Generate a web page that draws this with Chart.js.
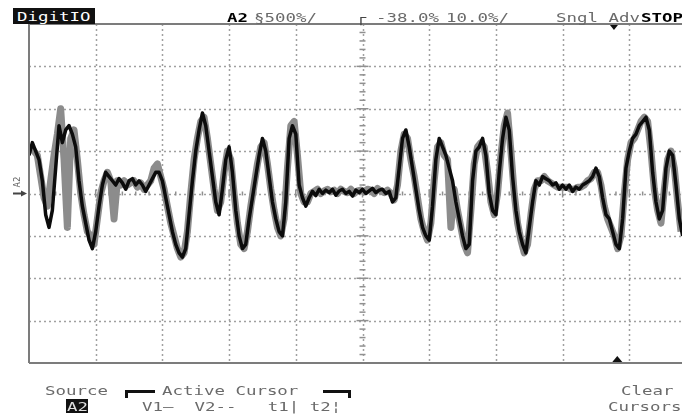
<!DOCTYPE html>
<html>
<head>
<meta charset="utf-8">
<script src="https://cdn.jsdelivr.net/npm/chart.js@4.4.0/dist/chart.umd.min.js"></script>
<style>
body { margin: 0; width: 682px; height: 414px; overflow: hidden; background: #fff; position: relative; }
#wrap { position: absolute; left: 0; top: 0; width: 700px; height: 414px; }
.t { position: absolute; font-family: "DejaVu Sans Mono", monospace; font-size: 13px; line-height: 13px; color: #6a6a6a; white-space: pre; transform-origin: 0 0; transform: scaleX(1.34); }
.b { font-weight: bold; color: #000; }
.box { position: absolute; background: #111; }
</style>
</head>
<body>
<div id="wrap"><canvas id="scope" width="700" height="414"></canvas></div>

<div class="box" style="left:13px; top:8px; width:82px; height:16px;"></div>
<div class="t" style="left:17px; top:10px; color:#fff;">DigitIO</div>
<div class="t b" style="left:227px; top:11px;">A2</div>
<div class="t" style="left:254px; top:11px;">§500%/</div>
<div class="t" style="left:356px; top:11px; color:#444;">┌</div>
<div class="t" style="left:376px; top:11px;">-38.0%</div>
<div class="t" style="left:446px; top:11px;">10.0%/</div>
<div class="t" style="left:556px; top:11px;">Sngl Adv</div>
<div class="t b" style="left:641px; top:11px;">STOP</div>

<div class="t" style="left:45px; top:384px;">Source</div>
<div class="box" style="left:66px; top:399px; width:22px; height:14px;"></div>
<div class="t" style="left:67px; top:400px; color:#ddd;">A2</div>
<div class="box" style="left:125px; top:390px; width:30px; height:3px;"></div>
<div class="box" style="left:125px; top:390px; width:3px; height:8px;"></div>
<div class="t" style="left:162px; top:384px;">Active Cursor</div>
<div class="box" style="left:323px; top:390px; width:28px; height:3px;"></div>
<div class="box" style="left:348px; top:390px; width:3px; height:8px;"></div>
<div class="t" style="left:142px; top:400px;">V1—  V2--   t1| t2¦</div>
<div class="t" style="left:621px; top:384px;">Clear</div>
<div class="t" style="left:608px; top:400px;">Cursors</div>

<script>
// horizontal divisions 0..10, vertical divisions -4..4
var sampleStep = 0.05;
var blackStart = 0;
var grayStart = 0.025;
var xDivs = [1, 2, 3, 4, 5, 6, 7, 8, 9];
var yDivs = [-3, -2, -1, 0, 1, 2, 3];

// main (black) sweep, in divisions
var blackValues = [
  0.9, 1.2, 1.0, 0.8, 0.3, -0.5, -0.8, -0.4, 0.6, 1.6,
  1.2, 1.5, 1.6, 1.4, 1.1, 0.3, -0.3, -0.7, -1.1, -1.3,
  -0.9, -0.3, 0.2, 0.5, 0.4, 0.3, 0.2, 0.35, 0.25, 0.1,
  0.3, 0.35, 0.2, 0.3, 0.2, 0.05, 0.2, 0.35, 0.5, 0.5,
  0.3, -0.1, -0.5, -0.9, -1.2, -1.4, -1.5, -1.3, -0.5, 0.3,
  1.0, 1.5, 1.9, 1.6, 1.0, 0.4, -0.2, -0.5, 0.1, 0.8,
  1.1, 0.5, -0.4, -1.0, -1.3, -1.2, -0.6, -0.1, 0.4, 0.9,
  1.3, 1.0, 0.4, -0.2, -0.6, -0.9, -1.0, -0.2, 1.3, 1.6,
  1.4, 0.2, -0.1, -0.3, -0.1, 0.05, -0.05, 0.1, 0.0, 0.08,
  0.02, 0.1, -0.04, 0.06, 0.1, 0.0, 0.05, -0.06, 0.08, 0.02,
  0.1, 0.0, 0.06, 0.12, 0.02, 0.08, 0.1, 0.0, 0.05, -0.2,
  -0.1, 0.6, 1.3, 1.5, 1.1, 0.6, 0.1, -0.4, -0.8, -1.0,
  -1.1, -0.3, 0.8, 1.3, 1.1, 0.9, 0.6, 0.3, -0.2, -0.6,
  -1.0, -1.3, -1.2, 0.3, 1.0, 1.1, 1.3, 0.9, 0.0, -0.4,
  -0.5, 0.5, 1.3, 1.8, 1.5, 0.4, -0.4, -0.9, -1.2, -1.4,
  -0.8, -0.2, 0.3, 0.2, 0.4, 0.35, 0.3, 0.2, 0.25, 0.1,
  0.2, 0.1, 0.2, 0.05, 0.15, 0.1, 0.2, 0.25, 0.3, 0.4,
  0.6, 0.4, -0.1, -0.5, -0.6, -0.9, -1.2, -1.3, -0.6, 0.6,
  1.0, 1.3, 1.4, 1.6, 1.7, 1.8, 1.5, 0.5, -0.2, -0.6,
  -0.4, 0.6, 1.0, 0.9, 0.2, -0.6, -1.0
];

// second (gray) sweep
var grayValues = [
  1.1, 1.0, 0.9, 0.4, -0.1, -0.3, 0.3, 0.9, 1.4, 2.0,
  0.8, -0.8, 1.3, 1.5, 0.8, 0.0, -0.5, -0.9, -1.0, -1.2,
  -0.6, 0.0, 0.3, 0.5, 0.3, -0.6, 0.3, 0.2, 0.3, 0.2,
  0.25, 0.3, 0.15, 0.25, 0.1, 0.2, 0.3, 0.6, 0.7, 0.4,
  0.1, -0.3, -0.7, -1.0, -1.3, -1.5, -1.4, -0.9, 0.0, 0.8,
  1.3, 1.7, 1.8, 1.3, 0.7, 0.1, -0.4, -0.2, 0.5, 1.0,
  0.8, 0.0, -0.7, -1.2, -1.3, -0.9, -0.3, 0.2, 0.7, 1.1,
  1.2, 0.7, 0.1, -0.4, -0.8, -1.0, -0.6, 0.6, 1.6, 1.7,
  0.9, 0.0, -0.2, -0.2, 0.0, 0.05, 0.1, 0.0, 0.06, 0.1,
  0.04, 0.08, 0.0, 0.1, 0.05, 0.02, 0.1, 0.0, 0.06, 0.08,
  0.04, 0.1, 0.08, 0.0, 0.12, 0.06, 0.02, 0.08, 0.0, -0.15,
  0.2, 1.0, 1.4, 1.3, 0.8, 0.4, -0.1, -0.6, -0.9, -1.1,
  -0.7, 0.3, 1.1, 1.2, 0.9, 0.8, -0.8, 0.1, -0.4, -0.8,
  -1.2, -1.4, -0.4, 0.7, 1.1, 1.2, 1.1, 0.5, -0.2, -0.5,
  0.0, 0.9, 1.6, 1.9, 1.0, 0.0, -0.7, -1.1, -1.4, -1.2,
  -0.5, 0.1, 0.3, 0.3, 0.4, 0.3, 0.25, 0.2, 0.15, 0.15,
  0.15, 0.15, 0.1, 0.1, 0.15, 0.15, 0.2, 0.3, 0.35, 0.5,
  0.5, 0.2, -0.3, -0.6, -0.8, -1.0, -1.3, -1.0, 0.0, 0.8,
  1.2, 1.3, 1.5, 1.7, 1.8, 1.7, 1.0, 0.1, -0.4, -0.7,
  0.1, 0.8, 1.0, 0.6, -0.2, -0.9
];

function toPoints(values, start) {
  var pts = [];
  for (var i = 0; i < values.length; i++) {
    pts.push({ x: start + i * sampleStep, y: values[i] });
  }
  return pts;
}

var scopeDecor = {
  id: 'scopeDecor',
  beforeDatasetsDraw: function(chart) {
    var ctx = chart.ctx;
    var xs = chart.scales.x;
    var ys = chart.scales.y;
    var a = chart.chartArea;
    ctx.save();
    ctx.strokeStyle = '#a0a0a0';
    ctx.lineWidth = 1.5;
    ctx.setLineDash([2, 3]);
    for (var i = 0; i < xDivs.length; i++) {
      var px = Math.round(xs.getPixelForValue(xDivs[i])) + 0.5;
      ctx.beginPath(); ctx.moveTo(px, a.top); ctx.lineTo(px, a.bottom); ctx.stroke();
    }
    for (var j = 0; j < yDivs.length; j++) {
      var py = Math.round(ys.getPixelForValue(yDivs[j])) + 0.5;
      ctx.beginPath(); ctx.moveTo(a.left, py); ctx.lineTo(a.right, py); ctx.stroke();
    }
    ctx.setLineDash([]);
    // minor ticks on the centre axes
    ctx.strokeStyle = '#909090';
    ctx.lineWidth = 1.5;
    var cx = xs.getPixelForValue(5);
    var cy = ys.getPixelForValue(0);
    for (var k = -20; k <= 20; k++) {
      var ty = ys.getPixelForValue(k / 5);
      var w = (k % 5 == 0) ? 6 : 3;
      ctx.beginPath(); ctx.moveTo(cx - w, ty); ctx.lineTo(cx + w, ty); ctx.stroke();
    }
    for (var m = 0; m <= 50; m++) {
      var tx = xs.getPixelForValue(m / 5);
      var h = (m % 5 == 0) ? 4 : 2;
      ctx.beginPath(); ctx.moveTo(tx, cy - h); ctx.lineTo(tx, cy + h); ctx.stroke();
    }
    ctx.restore();
  },
  afterDraw: function(chart) {
    var ctx = chart.ctx;
    var xs = chart.scales.x;
    var a = chart.chartArea;
    ctx.save();
    ctx.strokeStyle = '#7c7c7c';
    ctx.lineWidth = 2;
    ctx.beginPath();
    ctx.moveTo(a.left, 18); ctx.lineTo(a.left, a.bottom);
    ctx.moveTo(a.left, a.top); ctx.lineTo(chart.width, a.top);
    ctx.moveTo(a.left, a.bottom); ctx.lineTo(chart.width, a.bottom);
    ctx.stroke();
    // trigger / cursor markers
    ctx.fillStyle = '#111';
    var mx = xs.getPixelForValue(8.77);
    ctx.beginPath(); ctx.moveTo(mx - 4, a.top + 1); ctx.lineTo(mx + 4, a.top + 1); ctx.lineTo(mx, a.top + 6); ctx.fill();
    var bx = xs.getPixelForValue(8.82);
    ctx.beginPath(); ctx.moveTo(bx - 5, a.bottom - 1); ctx.lineTo(bx + 5, a.bottom - 1); ctx.lineTo(bx, a.bottom - 7); ctx.fill();
    // channel label on left edge
    var cy = chart.scales.y.getPixelForValue(0);
    ctx.fillStyle = '#666';
    ctx.font = '9px "DejaVu Sans Mono"';
    ctx.translate(20, cy - 6);
    ctx.rotate(-Math.PI / 2);
    ctx.fillText('A2', 0, 0);
    ctx.restore();
    ctx.save();
    ctx.fillStyle = '#444';
    ctx.beginPath(); ctx.moveTo(a.left - 2, cy); ctx.lineTo(a.left - 8, cy - 3); ctx.lineTo(a.left - 8, cy + 3); ctx.fill();
    ctx.fillRect(a.left - 16, cy - 1, 9, 2);
    ctx.restore();
  }
};

new Chart(document.getElementById('scope').getContext('2d'), {
  type: 'scatter',
  data: {
    datasets: [
      {
        label: 'A2',
        data: toPoints(blackValues, blackStart),
        showLine: true,
        borderColor: '#0c0c0c',
        borderWidth: 3.5,
        borderJoinStyle: 'round',
        pointRadius: 0,
        tension: 0
      },
      {
        label: 'A2 sweep 2',
        data: toPoints(grayValues, grayStart),
        showLine: true,
        borderColor: '#8c8c8c',
        borderWidth: 7,
        borderJoinStyle: 'round',
        pointRadius: 0,
        tension: 0
      }
    ]
  },
  options: {
    responsive: false,
    animation: false,
    layout: { padding: { left: 29, top: 24, right: 4, bottom: 51 } },
    scales: {
      x: { type: 'linear', min: 0, max: 10, display: false },
      y: { type: 'linear', min: -4, max: 4, display: false }
    },
    plugins: {
      legend: { display: false },
      tooltip: { enabled: false }
    }
  },
  plugins: [scopeDecor]
});
</script>
</body>
</html>
